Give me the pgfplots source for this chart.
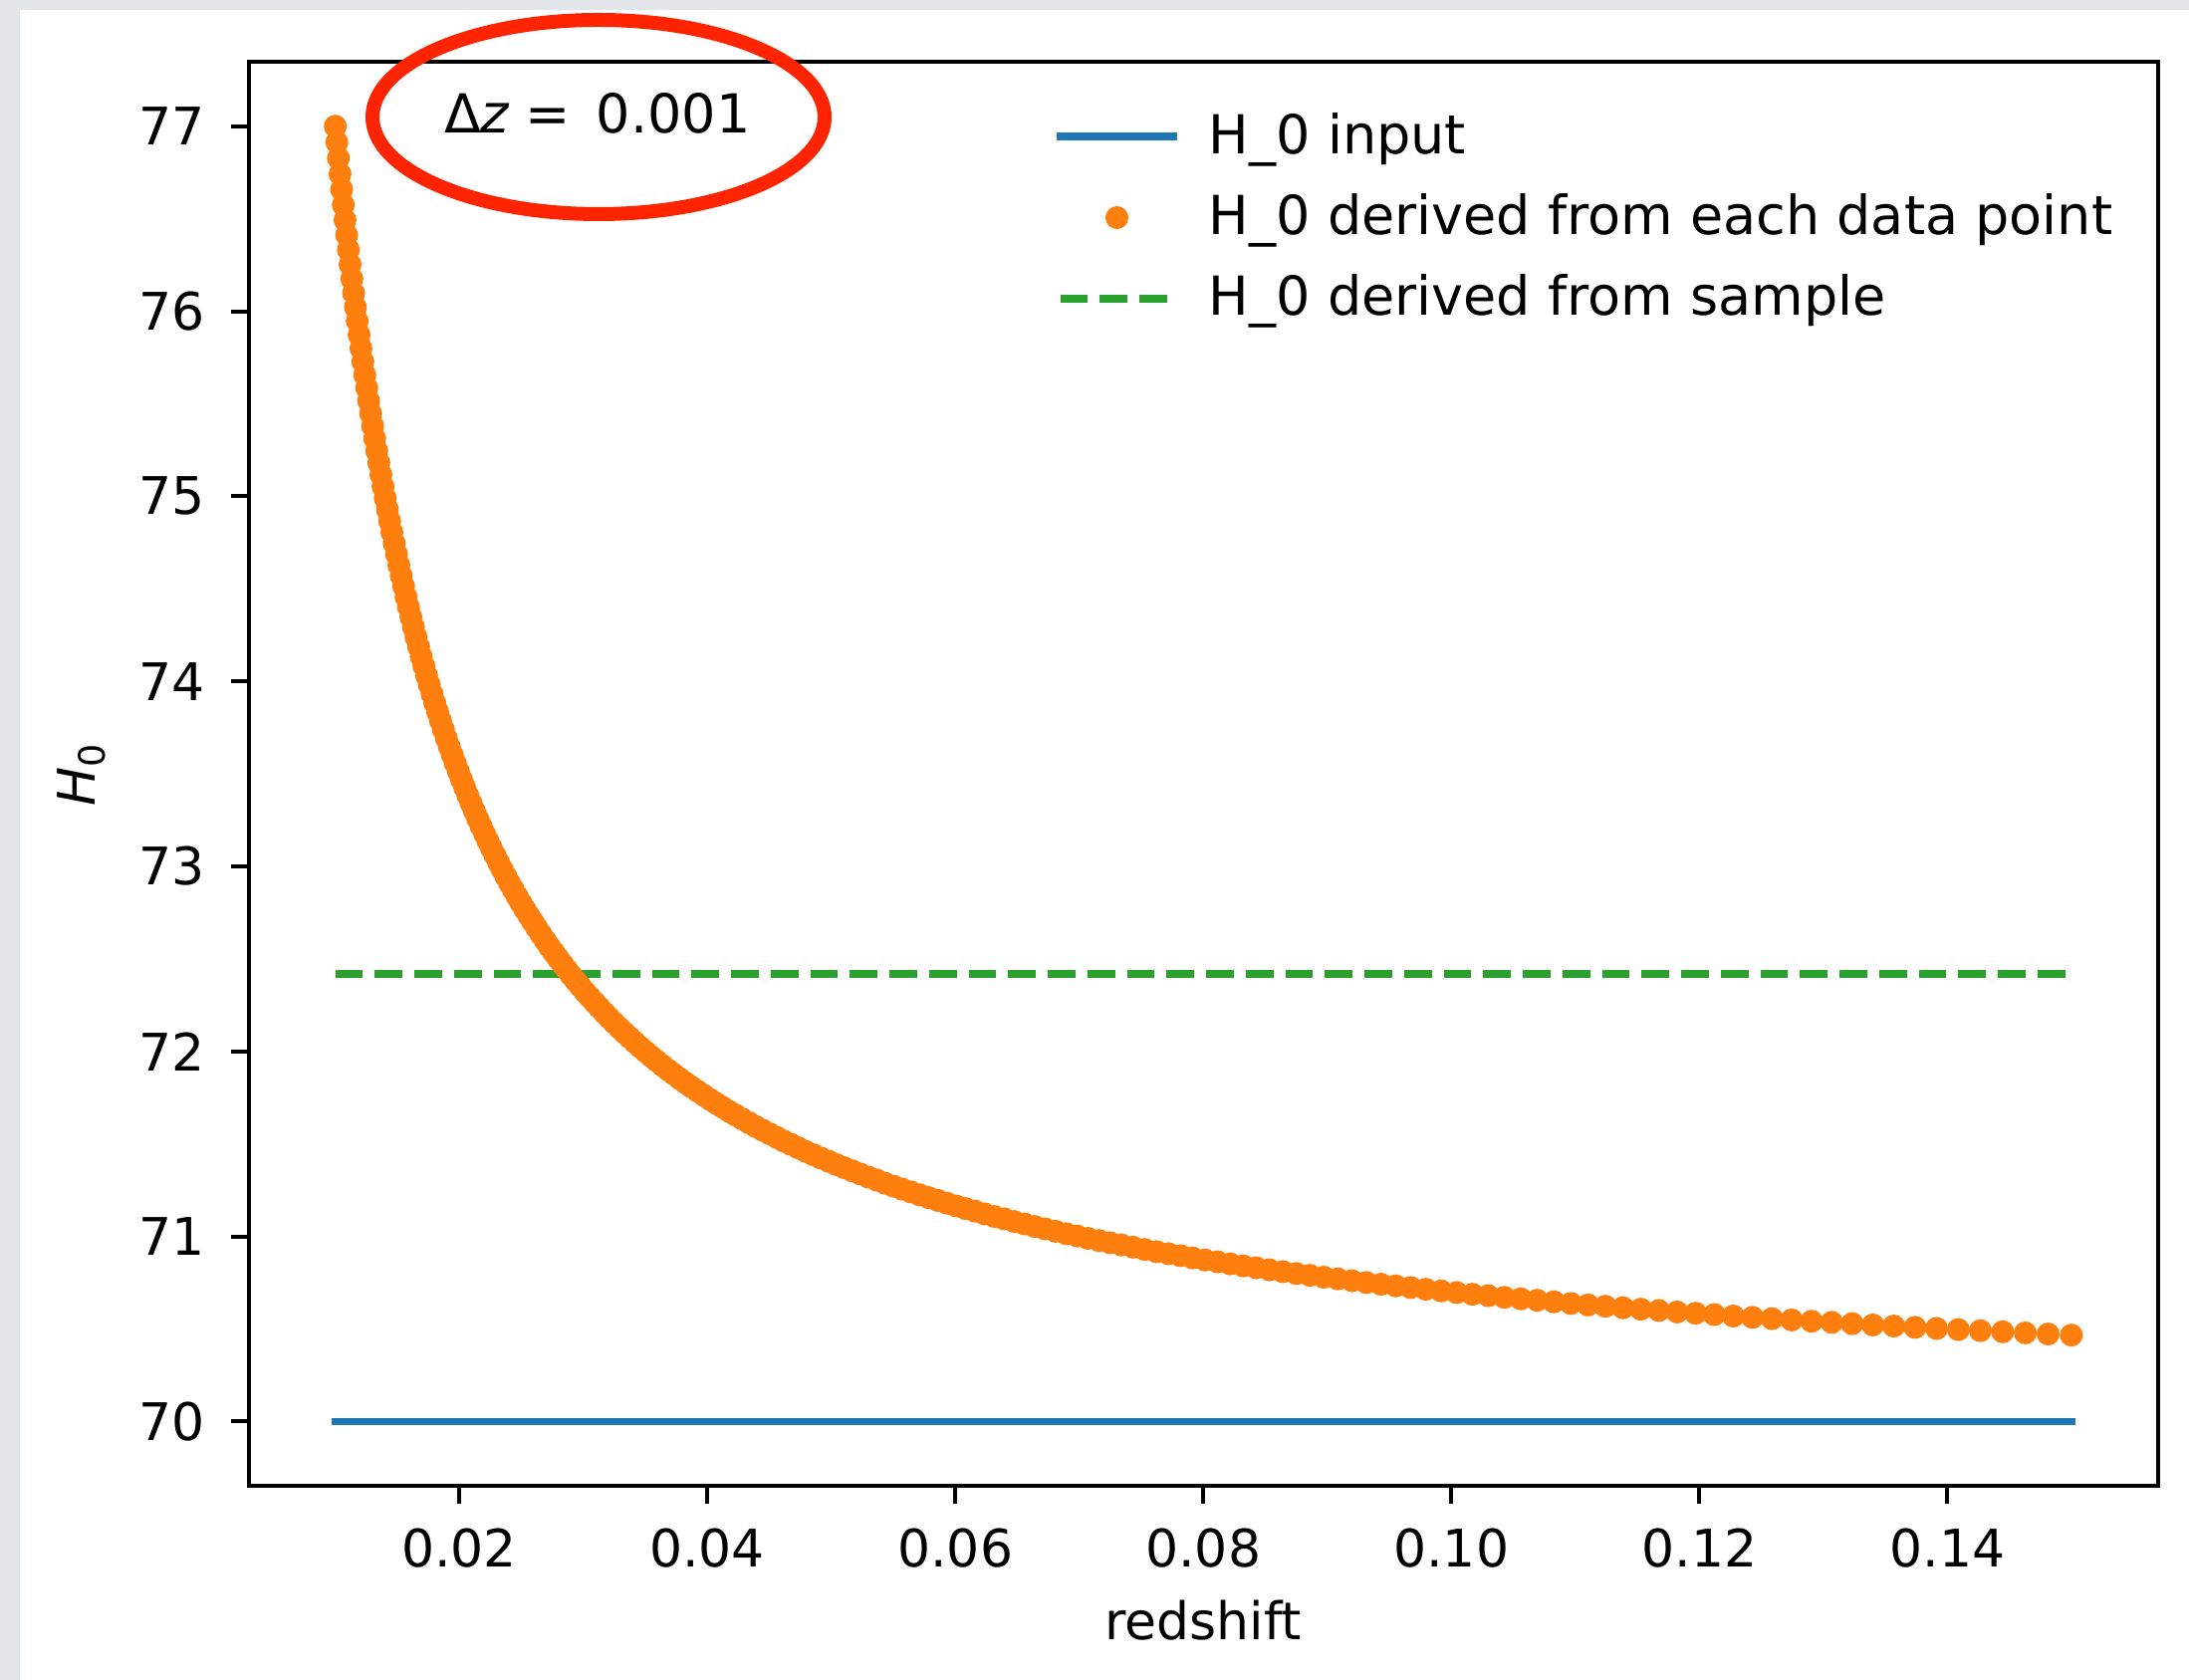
\documentclass[border=0pt]{standalone}
\usepackage{fontspec}
\setmainfont{DejaVu Sans}[ItalicFont={DejaVu Sans Oblique}]
\usepackage{pgfplots}
\pgfplotsset{compat=1.18}
\usepackage{pgfplotstable}
\definecolor{mplblue}{RGB}{31,119,180}
\definecolor{mplorange}{RGB}{255,127,14}
\definecolor{mplgreen}{RGB}{44,160,44}
\definecolor{redc}{RGB}{255,36,0}
\definecolor{bggray}{RGB}{226,229,233}

\pgfplotsset{
  lineleg/.style={legend image code/.code={\draw[##1] (0pt,3.4pt) -- (22.7pt,3.4pt);}},
  dotleg/.style={legend image code/.code={\path (0pt,3.4pt) (22.7pt,3.4pt); \draw[##1] plot coordinates {(11.35pt,3.4pt)};}},
}

\pgfplotstableread{
z H
0.010000 77.000
0.010126 76.913
0.010254 76.827
0.010383 76.742
0.010514 76.658
0.010647 76.575
0.010781 76.493
0.010917 76.412
0.011055 76.332
0.011194 76.253
0.011336 76.175
0.011479 76.098
0.011624 76.022
0.011770 75.947
0.011919 75.873
0.012069 75.800
0.012221 75.728
0.012376 75.656
0.012532 75.586
0.012690 75.516
0.012850 75.448
0.013012 75.380
0.013176 75.313
0.013342 75.246
0.013511 75.181
0.013681 75.117
0.013854 75.053
0.014028 74.990
0.014206 74.928
0.014385 74.866
0.014566 74.806
0.014750 74.746
0.014936 74.687
0.015125 74.628
0.015315 74.571
0.015509 74.514
0.015704 74.457
0.015902 74.402
0.016103 74.347
0.016306 74.293
0.016512 74.239
0.016720 74.187
0.016931 74.134
0.017145 74.083
0.017361 74.032
0.017580 73.982
0.017802 73.932
0.018026 73.883
0.018254 73.835
0.018484 73.787
0.018717 73.740
0.018953 73.693
0.019193 73.647
0.019435 73.602
0.019680 73.557
0.019928 73.513
0.020180 73.469
0.020434 73.426
0.020692 73.383
0.020953 73.341
0.021217 73.299
0.021485 73.258
0.021756 73.217
0.022031 73.177
0.022309 73.138
0.022590 73.099
0.022875 73.060
0.023164 73.022
0.023456 72.984
0.023752 72.947
0.024051 72.910
0.024355 72.874
0.024662 72.838
0.024973 72.803
0.025288 72.768
0.025607 72.734
0.025930 72.700
0.026258 72.666
0.026589 72.633
0.026924 72.600
0.027264 72.567
0.027608 72.536
0.027956 72.504
0.028309 72.473
0.028666 72.442
0.029028 72.411
0.029394 72.381
0.029765 72.352
0.030140 72.322
0.030521 72.294
0.030906 72.265
0.031296 72.237
0.031690 72.209
0.032090 72.181
0.032495 72.154
0.032905 72.127
0.033320 72.101
0.033741 72.075
0.034166 72.049
0.034597 72.023
0.035034 71.998
0.035476 71.973
0.035923 71.949
0.036377 71.924
0.036836 71.900
0.037300 71.877
0.037771 71.853
0.038247 71.830
0.038730 71.807
0.039219 71.785
0.039713 71.763
0.040214 71.741
0.040722 71.719
0.041235 71.698
0.041756 71.676
0.042282 71.656
0.042816 71.635
0.043356 71.615
0.043903 71.594
0.044457 71.575
0.045018 71.555
0.045586 71.536
0.046161 71.516
0.046743 71.498
0.047333 71.479
0.047930 71.460
0.048535 71.442
0.049147 71.424
0.049767 71.407
0.050395 71.389
0.051031 71.372
0.051675 71.355
0.052327 71.338
0.052987 71.321
0.053655 71.305
0.054332 71.288
0.055018 71.272
0.055712 71.256
0.056415 71.241
0.057126 71.225
0.057847 71.210
0.058577 71.195
0.059316 71.180
0.060064 71.165
0.060822 71.151
0.061589 71.137
0.062366 71.122
0.063153 71.108
0.063950 71.095
0.064757 71.081
0.065574 71.068
0.066401 71.054
0.067239 71.041
0.068087 71.028
0.068946 71.015
0.069816 71.003
0.070697 70.990
0.071589 70.978
0.072492 70.966
0.073407 70.954
0.074333 70.942
0.075270 70.930
0.076220 70.918
0.077182 70.907
0.078155 70.896
0.079141 70.884
0.080140 70.873
0.081151 70.863
0.082175 70.852
0.083211 70.841
0.084261 70.831
0.085324 70.820
0.086401 70.810
0.087491 70.800
0.088595 70.790
0.089712 70.780
0.090844 70.771
0.091990 70.761
0.093151 70.751
0.094326 70.742
0.095516 70.733
0.096721 70.724
0.097941 70.715
0.099177 70.706
0.100428 70.697
0.101695 70.688
0.102978 70.680
0.104277 70.671
0.105593 70.663
0.106925 70.655
0.108274 70.647
0.109640 70.638
0.111023 70.630
0.112424 70.623
0.113843 70.615
0.115279 70.607
0.116733 70.600
0.118206 70.592
0.119697 70.585
0.121207 70.578
0.122736 70.570
0.124285 70.563
0.125853 70.556
0.127441 70.549
0.129049 70.542
0.130677 70.536
0.132325 70.529
0.133995 70.522
0.135685 70.516
0.137397 70.509
0.139131 70.503
0.140886 70.497
0.142663 70.491
0.144463 70.485
0.146286 70.479
0.148131 70.473
0.150000 70.467
}\orangedata

\begin{document}
\begin{tikzpicture}
\path[use as bounding box] (0,0) rectangle (439.6pt,337.4pt);
\fill[white] (0,0) rectangle (439.6pt,337.4pt);
\fill[bggray] (0,0) rectangle (4pt,337.4pt);
\fill[bggray] (0,335.4pt) rectangle (439.6pt,337.4pt);
\begin{axis}[
  at={(49.9pt,38.9pt)}, anchor=south west,
  scale only axis, width=383.5pt, height=286.16pt,
  xmin=0.003, xmax=0.157, ymin=69.65, ymax=77.35,
  xtick={0.02,0.04,0.06,0.08,0.10,0.12,0.14},
  xticklabels={0.02,0.04,0.06,0.08,0.10,0.12,0.14},
  ytick={70,71,72,73,74,75,76,77},
  yticklabels={70,71,72,73,74,75,76,77},
  tick align=outside, major tick length=3.5pt,
  xtick pos=bottom, ytick pos=left,
  tick style={black, line width=0.8pt},
  axis line style={black, line width=0.8pt},
  /pgf/number format/assume math mode=true,
  xticklabel style={font=\fontsize{10.4}{12}\selectfont, inner sep=0pt, anchor=north, yshift=-4.7pt},
  yticklabel style={font=\fontsize{10.4}{12}\selectfont, inner sep=0pt, anchor=east, xshift=-5.0pt},
  xlabel={redshift},
  ylabel={\textit{H}\textsubscript{0}},
  xlabel style={font=\fontsize{10.4}{12}\selectfont, at={(axis description cs:0.5,0)}, anchor=base, yshift=-30.9pt, inner sep=0pt},
  ylabel style={font=\fontsize{10.4}{12}\selectfont, at={(axis description cs:-0.0874,0.5)}, anchor=center, inner sep=0pt},
  legend cell align=left,
  legend style={at={(axis description cs:0.4232,0.964)}, anchor=north west, draw=none, fill=none, inner sep=0pt, outer sep=0pt, row sep=5.46pt, column sep=6.4pt, font=\fontsize{10.8}{13}\selectfont, nodes={inner sep=0pt, text height=8.2pt, text depth=2.6pt, anchor=base west}},
]
\addplot[mplblue, line width=1.5pt, line cap=rect, lineleg]
  coordinates {(0.01,70) (0.15,70)};
\addlegendentry{H\_0 input}
\addplot[only marks, mark=*, mark size=2.1pt, color=mplorange,
  mark options={draw=none, fill=mplorange}, dotleg]
  table[x=z, y=H] {\orangedata};
\addlegendentry{H\_0 derived from each data point}
\addplot[mplgreen, line width=1.5pt, dash pattern=on 5.55pt off 2.4pt, lineleg]
  coordinates {(0.01,72.42) (0.15,72.42)};
\addlegendentry{H\_0 derived from sample}
\end{axis}
\node[anchor=base west, inner sep=0pt, font=\fontsize{10.8}{13}\selectfont] at (89pt,310.7pt) {Δ\textit{z}\hspace{3pt}=\hspace{5.3pt}0.001};
\draw[redc, line width=2.8pt] (120.2pt,313.9pt) ellipse [x radius=45.4pt, y radius=19.5pt];
\end{tikzpicture}
\end{document}
